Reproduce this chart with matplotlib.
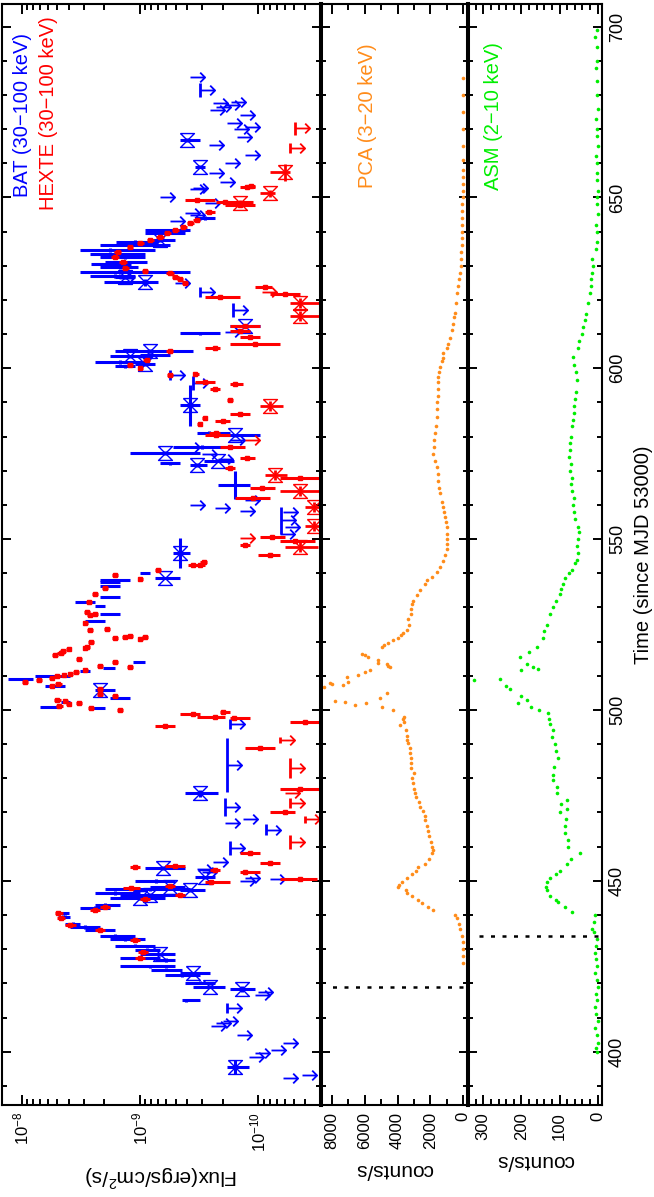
import numpy as np
import matplotlib
matplotlib.use("Agg")
import matplotlib.pyplot as plt
from matplotlib.path import Path
from matplotlib.ticker import MultipleLocator, LogLocator, NullFormatter, FixedLocator

plt.rcParams['font.family'] = ['Liberation Sans', 'DejaVu Sans']
plt.rcParams['mathtext.fontset'] = 'custom'
plt.rcParams['mathtext.rm'] = 'Liberation Sans'
plt.rcParams['mathtext.it'] = 'Liberation Sans:italic'
plt.rcParams['mathtext.bf'] = 'Liberation Sans:bold'

# ---------------- data (flux in units of 1e-10 erg/cm^2/s, time in MJD-53000) -------------
FLUX_UNIT = 1e-10

# BAT detections
bat_t = [395.5, 415.0, 418.3, 419.0, 420.2, 422.9, 422.3, 424.0, 425.0, 426.8,
         427.5, 428.5, 429.8, 431.0, 433.0, 434.0, 435.6, 436.5, 437.5, 439.5,
         440.5, 442.0, 443.0, 445.0, 446.0, 446.4, 447.5, 448.2, 447.3, 450.0,
         453.7, 451.0, 475.6,
         500.6, 501.0, 502.3, 503.4, 505.8, 507.0, 509.0, 509.9, 511.4, 512.3,
         514.0, 526.0, 528.0, 530.4, 531.6, 533.0, 536.2, 537.5, 538.0, 540.1,
         538.6, 545.9,
         565.8, 571.7, 573.0, 575.2, 572.2, 577.0, 580.4, 581.0, 589.2, 601.8,
         600.6, 605.0, 603.5, 601.2, 604.0, 610.2, 612.4,
         625.2, 628.2, 629.6, 631.0, 632.6, 634.6, 636.0, 637.5, 633.5, 627.0,
         639.5, 640.4, 626.7, 644.0, 666.8, 659.0, 637.0, 630.5]
bat_f = [1.57, 4.1, 1.38, 2.56, 3.1, 3.6, 4.4, 6.0, 8.2, 6.0,
         10.0, 6.8, 8.8, 11.0, 13.4, 16.3, 21.8, 29.2, 37, 43,
         45, 24, 19.8, 10.0, 8.2, 16.3, 8.2, 5.6, 3.8, 7.3,
         6.4, 2.82, 3.11,
         23, 60, 43, 14.3, 21.8, 52, 90, 58, 28, 17.9,
         10.5, 24, 17.9, 21.8, 28, 17.9, 17.9, 17.9, 16.3, 9.1,
         6.2, 4.6,
         1.57, 3.3, 2.2, 6.15, 5.6, 3.0, 1.57, 2.6, 3.78, 14.8,
         13.4, 8.2, 12.2, 9.1, 8.2, 3.1, 1.3,
         9.1, 14.8, 14.8, 13.4, 13.4, 17.9, 12.2, 6.8, 16.3, 16.3,
         6.15, 5.6, 13.4, 2.8, 4.0, 3.11, 11, 18]
bat_lo = [1.20, 3.1, 1.07, 1.91, 2.32, 2.56, 3.1, 4.4, 5.06, 5.06,
          6.8, 5.06, 6.8, 7.5, 9.1, 11.0, 16.3, 21.8, 32, 39,
          40, 18, 14.8, 6.2, 4.6, 10.0, 3.8, 4.2, 2.8, 5.06,
          4.2, 2.32, 2.2,
          19.8, 47, 39, 12.2, 16.3, 43, 80, 39, 26.5, 16.3,
          9.1, 19.8, 14.8, 19.8, 24, 14.8, 14.8, 14.8, 12.2, 8.2,
          4.6, 3.78,
          1.18, 2.7, 1.6, 3.11, 4.6, 1.6, 0.97, 1.73, 3.11, 9.1,
          11.0, 3.6, 8.2, 7.5, 5.6, 2.11, 0.97,
          7.0, 3.8, 10.5, 8.8, 9.1, 7.5, 5.6, 5.06, 9.1, 11,
          4.2, 3.8, 11, 2.32, 3.11, 2.82, 7, 12]
bat_hi = [1.85, 4.4, 1.73, 3.6, 4.2, 4.6, 6.15, 8.0, 14.8, 7.5,
          14.8, 10.0, 11.0, 16.3, 17.9, 21.8, 29.2, 39.1, 43, 49,
          50, 32, 24, 17.9, 14.8, 24, 19.8, 8.2, 4.6, 11.0,
          9.1, 3.43, 4.17,
          26.5, 70, 47, 17.9, 24, 63, 130, 77, 32, 20.5,
          11.5, 29.2, 21.8, 24, 35.4, 21.8, 21.8, 21.8, 21.8, 10.0,
          7.5, 5.3,
          2.2, 3.8, 2.9, 12.2, 6.8, 5.3, 2.0, 3.3, 4.6, 24,
          16.3, 16.3, 17.9, 11.0, 10.0, 4.6, 1.73,
          20, 32, 21.8, 19.8, 21.8, 32, 21.8, 8.2, 26.5, 26.5,
          9.1, 9.1, 16.3, 3.43, 4.6, 3.43, 16, 26]
bat_dt = [2.0, 0.5, 0.8, 0.5, 0.5, 0.5, 0.5, 0.5, 0.5, 0.5,
          0.5, 0.5, 0.5, 0.5, 0.5, 0.5, 0.5, 0.5, 0.5, 0.5,
          0.5, 0.5, 0.5, 0.5, 0.5, 0.5, 0.5, 0.5, 0.5, 0.5,
          0.5, 0.5, 1.0,
          0.3, 0.3, 0.3, 0.3, 0.3, 0.3, 0.3, 0.3, 0.3, 0.3,
          0.3, 0.3, 0.3, 0.3, 0.3, 0.3, 0.3, 0.3, 0.3, 0.3,
          0.3, 4.4,
          4.0, 0.5, 0.5, 0.5, 0.5, 0.5, 0.5, 0.5, 6.0, 0.5,
          0.5, 0.5, 0.5, 0.5, 0.5, 0.5, 0.5,
          1.0, 0.5, 0.5, 0.5, 0.5, 0.5, 0.5, 0.5, 0.5, 0.5,
          0.5, 0.5, 0.5, 0.5, 0.5, 0.5, 0.5, 0.5]
bat_star = [1, 0, 1, 1, 0, 1, 0, 0, 0, 0,
            0, 1, 0, 0, 0, 0, 0, 0, 0, 0,
            0, 0, 0, 1, 1, 0, 0, 1, 1, 0,
            1, 1, 1,
            0, 0, 0, 0, 1, 0, 0, 0, 0, 0,
            0, 0, 0, 0, 0, 0, 0, 0, 0, 0,
            1, 1,
            0, 1, 1, 1, 0, 0, 1, 0, 1, 0,
            0, 1, 1, 1, 0, 0, 1,
            1, 0, 0, 0, 0, 0, 0, 1, 0, 0,
            0, 0, 1, 0, 1, 1, 0, 0]

# BAT upper limits
batul_t = [392.3, 393.2, 398.4, 399.6, 400.5, 402.5, 405.0, 407.5, 408.5, 409.0,
           412.8, 416.6, 417.5, 450.0, 450.8, 450.5, 452.5, 453.5, 455.4, 459.6,
           465.0, 467.0, 468.0, 471.6, 483.9, 496.0, 551.5, 553.5, 555.5, 558.0,
           558.2, 559.0, 560.0, 561.4, 573.5, 575.0, 577.0, 579.0, 595.6, 598.0,
           610.6, 617.0, 622.3, 624.9, 626.5, 643.0, 644.8, 645.4, 648.3, 650.1,
           652.4, 652.7, 654.5, 657.0, 660.0, 662.4, 665.2, 667.6, 670.0, 670.5,
           671.8, 674.0, 675.6, 676.5, 677.0, 678.0, 677.5, 681.4, 685.2]
batul_f = [0.62, 0.43, 1.20, 1.07, 0.78, 0.62, 1.50, 2.5, 2.3, 2.0,
           1.85, 1.07, 1.0, 1.43, 1.30, 0.80, 3.0, 3.3, 2.4, 1.73,
           0.86, 1.91, 1.35, 1.91, 1.85, 1.73, 0.66, 0.60, 0.64, 0.62,
           1.43, 2.32, 3.78, 1.30, 2.2, 3.0, 4.2, 1.73, 3.6, 5.6,
           1.91, 1.65, 3.1, 5.06, 15, 5.6, 3.8, 4.2, 2.82, 6.8,
           3.78, 3.6, 2.11, 2.6, 1.91, 1.30, 2.6, 1.5, 1.6, 1.3,
           1.85, 1.43, 2.56, 2.3, 1.9, 1.7, 2.4, 3.11, 3.78]
batul_dt = [0, 0, 0, 0, 0, 0, 0, 0, 0, 0,
            1.5, 0, 0, 0, 0, 0, 0, 0, 0, 2.0,
            1.5, 0, 0, 2.5, 8.0, 1.5, 0, 0, 4.0, 0,
            0, 0, 0, 0, 0, 0, 0, 0, 2.0, 1.5,
            0, 2.0, 1.5, 0, 0, 0, 0, 0, 0, 0,
            0, 0, 0, 0, 0, 0, 0, 0, 0, 0,
            0, 0, 0, 0, 0, 0, 0, 2.0, 0]

# HEXTE detections (dots)
hx_t = [427.5, 429.2, 432.7, 435.6, 437.0, 439.0, 440.5, 442.3, 441.5, 444.7,
        445.9, 447.8, 448.5, 449.7, 450.5, 452.6, 453.2, 454.0, 454.2, 455.2,
        458.2, 470.2, 476.9, 488.9, 495.3, 496.5, 497.6, 498.0, 498.8, 499.3,
        500.0, 500.6, 501.2, 501.7, 502.0, 502.5, 503.0, 504.0, 504.8, 506.0,
        507.0, 507.5, 508.3, 508.7, 509.5, 509.9, 510.2, 510.5, 511.0, 511.6,
        512.6, 513.0, 514.0, 515.0, 516.0, 516.8, 517.3, 517.8, 518.0, 518.5,
        519.8, 521.0, 521.3, 521.6, 520.8, 521.5, 523.7, 523.3, 525.5, 527.8,
        528.2, 528.6, 531.5, 534.0, 535.7, 539.5, 538.3, 541.0, 542.5, 543.3,
        542.4, 548.3, 545.3, 550.6, 549.5, 567.8, 565.0, 562.0, 580.5, 581.0,
        577.0, 570.7, 573.7, 583.6, 585.4, 584.6, 586.6, 590.7, 594.0, 596.0,
        595.4, 598.2, 598.0, 600.0, 601.0, 602.5, 605.0, 606.0, 607.0, 609.1,
        610.9, 612.4, 620.8, 621.7, 623.7,
        624.9, 626.0, 626.7, 627.8, 628.5, 629.3, 631.0, 632.6, 634.0, 635.5,
        636.7, 637.5, 638.5, 639.6, 640.5, 641.4, 642.5, 643.5, 645.7, 647.7,
        648.6, 649.2, 653.0, 653.3]
hx_f = [10.0, 9.5, 11, 21.8, 39, 47, 49, 19.8, 24, 9.1,
        4.6, 12, 5.6, 2.5, 0.445, 1.3, 2.32, 11, 5.06, 0.80,
        1.18, 0.595, 0.445, 0.97, 6.2, 0.40, 1.6, 2.32, 3.6, 2.0,
        14.8, 26, 48, 40, 33, 43, 50, 16.3, 21.8, 21.8,
        56, 49, 94, 72, 56, 50, 44, 39, 35, 29,
        12.2, 21.8, 16.3, 33, 52, 47, 45, 40, 29, 28,
        26, 16.3, 13.4, 12.2, 10.0, 9.1, 19, 26.5, 29, 26.5,
        24, 28, 27, 24, 19.8, 16.3, 10, 7, 3.6, 2.9,
        3.11, 1.30, 0.80, 0.76, 0.49, 0.445, 0.93, 1.10, 2.3, 2.3,
        1.73, 1.73, 1.25, 3.11, 2.82, 2.0, 1.43, 1.73, 2.32, 2.82,
        1.57, 3.43, 5.6, 10, 12.2, 8.8, 5.6, 2.32, 1.07, 1.18,
        1.43, 1.30, 2.11, 0.595, 0.88,
        4.17, 4.6, 5.06, 5.6, 9.1, 13.4, 14, 16.3, 15.5, 12.2,
        10, 8.2, 6.8, 5.9, 5.06, 4.3, 3.78, 3.3, 2.6, 1.43,
        1.91, 3.3, 1.25, 1.15]
hx_lo = [9.1, 8.5, 10, 19.8, 35, 43, 45, 17.9, 21.8, 8.2,
         4.2, 10, 5.06, 1.73, 0.32, 0.97, 2.1, 10, 4.2, 0.66,
         0.97, 0.49, 0.30, 0.72, 5.06, 0.30, 1.18, 1.91, 3.11, 1.73,
         14.0, 24.5, 45, 38, 31, 41, 47, 15.4, 20.6, 20.6,
         53, 46, 89, 68, 53, 47, 42, 37, 33, 27.5,
         11.5, 20.6, 15.4, 31, 49, 44, 42.5, 38, 27.5, 26.5,
         24.5, 15.4, 12.7, 11.5, 9.5, 8.6, 18, 25, 27.5, 25,
         22.7, 26.5, 25.5, 22.7, 18.7, 15.4, 9.5, 6.6, 3.3, 2.7,
         2.82, 1.18, 0.66, 0.59, 0.33, 0.30, 0.72, 0.80, 1.73, 2.11,
         1.30, 1.57, 1.07, 3.0, 2.7, 1.73, 1.18, 1.65, 2.11, 2.32,
         1.35, 3.2, 5.3, 9.5, 11.5, 8.2, 5.3, 2.11, 0.66, 0.97,
         1.18, 0.97, 1.43, 0.44, 0.76,
         3.9, 4.3, 4.7, 5.2, 8.5, 12.5, 13, 15, 14.5, 11.4,
         9.3, 7.6, 6.3, 5.5, 4.7, 4.0, 3.5, 3.1, 2.32, 1.07,
         1.10, 2.32, 1.07, 1.07]
hx_hi = [11.0, 10.5, 12.2, 24, 43, 50, 52, 21.8, 26.5, 10.0,
         5.06, 14, 6.2, 2.82, 0.66, 1.43, 2.56, 12.2, 6.15, 0.97,
         1.43, 0.80, 0.66, 1.30, 7.5, 0.54, 1.73, 3.3, 4.6, 2.11,
         15.6, 27.5, 51, 42, 35, 45, 53, 17.2, 23, 23,
         59, 52, 99, 76, 59, 53, 46, 41, 37, 30.5,
         12.9, 23, 17.2, 35, 55, 50, 47.5, 42, 30.5, 29.5,
         27.5, 17.2, 14.1, 12.9, 10.5, 9.6, 20, 28, 30.5, 28,
         25.3, 29.5, 28.5, 25.3, 20.9, 17.2, 10.5, 7.4, 3.9, 3.1,
         3.43, 1.43, 1.0, 0.97, 0.66, 0.66, 1.18, 1.57, 2.82, 2.6,
         2.11, 1.91, 1.43, 3.3, 3.0, 2.32, 1.73, 1.85, 2.56, 3.43,
         1.73, 3.6, 5.9, 10.5, 13, 9.5, 6.0, 2.82, 1.73, 1.43,
         1.73, 1.73, 2.82, 0.80, 1.07,
         4.4, 4.9, 5.4, 6.0, 9.7, 14.3, 15, 17.5, 16.5, 13,
         10.7, 8.8, 7.3, 6.3, 5.4, 4.6, 4.0, 3.6, 2.82, 1.91,
         2.3, 4.2, 1.43, 1.25]

# HEXTE detections drawn with star symbols
hxs_t = [547.8, 559.4, 553.8, 564.0, 568.7, 589.0, 619.0, 615.3, 648.3, 651.2, 657.4]
hxs_f = [0.445, 0.34, 0.34, 0.445, 0.72, 0.80, 0.445, 0.445, 1.43, 0.80, 0.595]
hxs_lo = [0.31, 0.29, 0.29, 0.30, 0.57, 0.62, 0.30, 0.30, 1.3, 0.72, 0.54]
hxs_hi = [0.595, 0.40, 0.40, 0.66, 0.88, 0.97, 0.54, 0.54, 1.6, 0.97, 0.80]
hxs_dt = [1.5, 1.5, 1.5, 1.5, 1.5, 1.5, 1.5, 1.5, 1.0, 1.0, 2.5]

# HEXTE upper limits
hxul_t = [461.4, 468.0, 472.7, 475.6, 483.0, 491.2, 550.3, 579.0, 622.3, 664.4, 670.2]
hxul_f = [0.54, 0.40, 0.54, 0.595, 0.54, 0.66, 1.43, 1.30, 0.93, 0.54, 0.49]
hxul_dt = [2.0, 1.0, 1.5, 0, 3.0, 1.0, 0, 0, 0, 1.5, 2.0]

# PCA (3-20 keV) counts/s
pca_t = [426, 428, 430, 432, 434, 436, 437.5, 439, 440, 441.5,
         442.3, 443.5, 444.4, 445.5, 446.5, 447.3, 448.3, 448.8, 449.7, 450.8,
         452, 453, 454, 455, 456.5, 458, 459, 460, 461.5, 463,
         464.5, 466, 467.8, 469, 470.5, 471.6, 473, 474.5, 475.6, 477,
         478.5, 480, 481.5, 483, 484.5, 486, 487.5, 489, 490.2, 491.2,
         492.5, 494, 495.6, 496.5, 497.5, 498, 500, 501, 501.5, 502,
         502.3, 502.6, 503.4, 505, 506.7, 507.3, 507.5, 508, 508.2, 509.6,
         510.3, 511, 511.6, 512.5, 513, 513.5, 513.8, 514.6, 515.5, 516,
         516.5, 518.5, 519, 519.6, 520.5, 521.2, 522, 522.5, 523.4, 525,
         526.5, 528, 529.5, 531, 532, 533.6, 535, 537, 538, 539,
         540.5, 541.8, 543.5, 545.4, 547, 548.5, 550, 551.5, 553.6, 555,
         556.4, 558, 559.3, 561, 563.4, 565, 567, 569, 571, 573,
         575, 577, 579, 581, 583, 585.8, 588, 590, 592, 594,
         596, 597.5, 599, 600.4, 602, 603, 604.4, 606, 607.2, 609,
         611.1, 613, 615, 616.1, 619, 622, 624, 626, 628, 630,
         632, 634, 636, 638, 640, 642, 644, 646, 648, 650,
         652, 654, 656, 658, 661, 665, 670, 675, 680, 685]
pca_c = [20, 10, 30, 20, 40, 180, 260, 350, 490, 1830,
         2140, 2500, 2750, 3100, 3440, 3500, 3950, 3900, 3700, 3440,
         3100, 2900, 2750, 2300, 2100, 1900, 1830, 1880, 1950, 2050,
         2150, 2200, 2300, 2320, 2450, 2630, 2700, 2850, 2930, 3000,
         3050, 3100, 3000, 3150, 3200, 3150, 3250, 3240, 3350, 3420,
         3450, 3500, 3850, 3600, 3650, 3580, 4270, 4950, 6600, 5900,
         7200, 7800, 5070, 4640, 8500, 7300, 8000, 8100, 7000, 7100,
         6400, 6000, 5680, 4450, 4550, 4650, 5200, 5200, 5800, 6000,
         6150, 4950, 4800, 4580, 4270, 4000, 3800, 3660, 3420, 3300,
         3350, 3200, 3150, 3100, 3050, 2810, 2600, 2320, 2200, 1900,
         1600, 1400, 1250, 1100, 1000, 980, 960, 980, 980, 1050,
         1100, 1150, 1220, 1300, 1400, 1450, 1500, 1550, 1600, 1700,
         1830, 1800, 1750, 1710, 1650, 1600, 1580, 1560, 1550, 1540,
         1530, 1530, 1450, 1400, 1300, 1220, 1220, 1000, 900, 780,
         670, 600, 520, 480, 400, 370, 300, 250, 200, 150,
         120, 100, 80, 70, 60, 50, 50, 40, 40, 30,
         30, 30, 25, 25, 20, 20, 15, 15, 10, 10]

# ASM (2-10 keV) counts/s
asm_t = [400, 401, 402.5, 405, 407, 409, 411, 413, 415, 417,
         419, 421, 423, 425, 427, 429, 431, 433, 435, 436,
         438, 440, 441, 442.3, 443.8, 444.4, 445.5, 447.3, 448.3, 449.7,
         450.8, 452, 453, 455, 456.5, 458, 460, 462, 464, 466,
         468, 470, 471, 472.5, 473.6, 475.6, 477.4, 479.5, 481, 483.3,
         486, 488, 490, 492, 494, 496, 497.5, 499, 500, 501,
         502, 503, 504, 506, 507, 508.8, 509, 511.7, 512, 512.6,
         513.5, 515.5, 517, 518.5, 521, 523, 525, 528, 530, 532,
         534, 535.5, 537, 538.5, 540, 541, 543, 544, 546, 548,
         550, 552, 553.5, 556, 558, 560, 562, 564, 566, 568,
         570, 572, 574, 576, 578, 580, 583, 585, 587, 589,
         591, 593, 596.6, 599, 601, 603.3, 606, 608, 610, 612,
         614, 616, 619, 622, 624, 626, 628, 630, 632, 635,
         637, 640, 642, 645, 648, 650, 652, 655, 657, 660,
         662, 665, 668, 670, 673, 676, 680, 684, 688, 690,
         694, 697, 699]
asm_c = [2, 5, 0, 3, 8, -2, 4, 6, 2, 5,
         0, 3, 6, 2, 4, 8, 5, 3, 10, 15,
         10, 7, 67, 85, 104, 110, 125, 133, 135, 133,
         125, 110, 99, 80, 70, 46, 78, 78, 85, 85,
         82, 99, 80, 95, 80, 107, 107, 118, 118, 115,
         104, 110, 112, 120, 118, 125, 128, 130, 155, 175,
         210, 185, 200, 230, 240, 325, 255, 200, 157, 170,
         185, 204, 180, 160, 143, 140, 133, 125, 118, 110,
         100, 95, 90, 85, 75, 68, 60, 55, 52, 53,
         52, 50, 52, 60, 62, 65, 62, 68, 70, 68,
         72, 70, 74, 72, 72, 70, 68, 65, 62, 62,
         60, 58, 55, 58, 62, 65, 52, 48, 42, 38,
         33, 30, 25, 20, 18, 17, 15, 12, 15, 5,
         3, 2, 4, 0, 3, 2, -1, 3, 1, 2,
         5, 0, 3, 2, 4, 0, 3, 2, 5, 1,
         3, 6, 2]

# tick values
flux_ticks = [1e-8, 1e-9, 1e-10]
pca_ticks = [0, 2000, 4000, 6000, 8000]
asm_ticks = [0, 100, 200, 300]
time_ticks = [400, 450, 500, 550, 600, 650, 700]

# dotted reference lines (start of the PCA and ASM coverage markers)
pca_mark_t = 419.0
pca_mark_c = 8000
asm_mark_t = 434.0
asm_mark_c = 330

# ---------------- styling -------------
BLUE = '#0000ff'
RED = '#ff0000'
ORANGE = '#ff8c1a'
GREEN = '#00ee00'

W, H = 654, 1197
fig = plt.figure(figsize=(W / 100, H / 100), dpi=100)


def rect(x0, x1, y0=4, y1=1105):
    return [x0 / W, 1 - y1 / H, (x1 - x0) / W, (y1 - y0) / H]


ax1 = fig.add_axes(rect(2, 321))
ax2 = fig.add_axes(rect(321, 468))
ax3 = fig.add_axes(rect(468, 602))

arrow_marker = Path([(0, 0), (2, 0), (1.33, 0.67), (2, 0), (1.33, -0.67)],
                    [Path.MOVETO, Path.LINETO, Path.MOVETO, Path.LINETO, Path.LINETO])
hourglass = Path([(-1, 1), (1, 1), (-1, -1), (1, -1), (-1, 1)],
                 [Path.MOVETO, Path.LINETO, Path.LINETO, Path.LINETO, Path.LINETO])

# ---- flux panel ----
bt = np.array(bat_t); bf = np.array(bat_f) * FLUX_UNIT
blo = np.array(bat_lo) * FLUX_UNIT; bhi = np.array(bat_hi) * FLUX_UNIT
bdt = np.array(bat_dt); bstar = np.array(bat_star) == 1
ax1.errorbar(bf, bt, xerr=[bf - blo, bhi - bf], yerr=bdt, fmt='none',
             ecolor=BLUE, elinewidth=2.2, capsize=0, zorder=3)
ax1.plot(bf[bstar], bt[bstar], ls='none', marker=hourglass, ms=10,
         mfc='none', mec=BLUE, mew=1.0, zorder=3)

ut = np.array(batul_t); uf = np.array(batul_f) * FLUX_UNIT; udt = np.array(batul_dt)
ax1.errorbar(uf, ut, yerr=udt, fmt='none', ecolor=BLUE, elinewidth=2.0, capsize=0, zorder=3)
ax1.plot(uf, ut, ls='none', marker=arrow_marker, ms=21, mfc='none', mec=BLUE,
         mew=1.3, zorder=3)

ht = np.array(hx_t); hf = np.array(hx_f) * FLUX_UNIT
hlo = np.array(hx_lo) * FLUX_UNIT; hhi = np.array(hx_hi) * FLUX_UNIT
ax1.errorbar(hf, ht, xerr=[hf - hlo, hhi - hf], fmt='s', ms=2.5, color=RED,
             mec=RED, elinewidth=2.2, capsize=0, zorder=4)

st = np.array(hxs_t); sf = np.array(hxs_f) * FLUX_UNIT
slo = np.array(hxs_lo) * FLUX_UNIT; shi = np.array(hxs_hi) * FLUX_UNIT
ax1.errorbar(sf, st, xerr=[sf - slo, shi - sf], yerr=np.array(hxs_dt), fmt='none',
             ecolor=RED, elinewidth=2.0, capsize=0, zorder=4)
ax1.plot(sf, st, ls='none', marker=hourglass, ms=10, mfc='none', mec=RED, mew=1.0, zorder=4)

rt = np.array(hxul_t); rf = np.array(hxul_f) * FLUX_UNIT
ax1.errorbar(rf, rt, yerr=np.array(hxul_dt), fmt='none', ecolor=RED, elinewidth=2.0,
             capsize=0, zorder=4)
ax1.plot(rf, rt, ls='none', marker=arrow_marker, ms=21, mfc='none', mec=RED, mew=1.3, zorder=4)

ax1.set_xscale('log')
ax1.set_xlim(10 ** -7.833, 10 ** -10.53)
ax1.xaxis.set_major_locator(FixedLocator(flux_ticks))
ax1.xaxis.set_minor_locator(LogLocator(base=10, subs=np.arange(2, 10), numticks=30))
ax1.xaxis.set_minor_formatter(NullFormatter())
ax1.set_xlabel('Flux(ergs/cm$^2$/s)', rotation=180, fontsize=15, labelpad=8)

ax1.text(0.0627, 0.8247, 'BAT (30\u2212100 keV)', rotation=90, color=BLUE,
         ha='center', va='bottom', transform=ax1.transAxes, fontsize=14.5)
ax1.text(0.147, 0.813, 'HEXTE (30\u2212100 keV)', rotation=90, color=RED,
         ha='center', va='bottom', transform=ax1.transAxes, fontsize=14.5)

# ---- PCA panel ----
ax2.plot(pca_c, pca_t, ls='none', marker='o', ms=2.6, mew=0, color=ORANGE)
ax2.plot([0, pca_mark_c], [pca_mark_t, pca_mark_t], color='black', lw=1.8,
         ls=(0, (1.6, 3.0)))
ax2.set_xlim(8672, -305)
ax2.xaxis.set_major_locator(FixedLocator(pca_ticks))
ax2.xaxis.set_minor_locator(MultipleLocator(1000))
ax2.set_xlabel('counts/s', rotation=180, fontsize=15, labelpad=8)
ax2.text(0.313, 0.833, 'PCA (3\u221220 keV)', rotation=90, color=ORANGE,
         ha='center', va='bottom', transform=ax2.transAxes, fontsize=14.5)

# ---- ASM panel ----
ax3.plot(asm_c, asm_t, ls='none', marker='o', ms=2.6, mew=0, color=GREEN)
ax3.plot([0, asm_mark_c], [asm_mark_t, asm_mark_t], color='black', lw=1.8,
         ls=(0, (1.6, 3.0)))
ax3.set_xlim(340, -11.3)
ax3.xaxis.set_major_locator(FixedLocator(asm_ticks))
ax3.xaxis.set_minor_locator(MultipleLocator(20))
ax3.set_xlabel('counts/s', rotation=180, fontsize=15, labelpad=8)
ax3.text(0.187, 0.831, 'ASM (2\u221210 keV)', rotation=90, color=GREEN,
         ha='center', va='bottom', transform=ax3.transAxes, fontsize=14.5)

# ---- common axes styling ----
for ax in (ax1, ax2, ax3):
    ax.set_ylim(384.4, 706.6)
    ax.yaxis.set_major_locator(FixedLocator(time_ticks))
    ax.yaxis.set_minor_locator(MultipleLocator(10))
    ax.tick_params(axis='y', which='both', direction='in', left=True, right=True,
                   labelleft=False, labelright=False, width=1.4)
    ax.tick_params(axis='y', which='major', length=6.5)
    ax.tick_params(axis='y', which='minor', length=3.6)
    ax.tick_params(axis='x', which='both', direction='in', top=True, bottom=True,
                   labelrotation=90, labelsize=12, width=1.4, pad=5)
    ax.tick_params(axis='x', which='major', length=7)
    ax.tick_params(axis='x', which='minor', length=4)
    for s in ax.spines.values():
        s.set_linewidth(1.5)

ax1.spines['right'].set_linewidth(2.9)
ax2.spines['left'].set_linewidth(2.9)
ax2.spines['right'].set_linewidth(2.9)
ax3.spines['left'].set_linewidth(2.9)

ax3.tick_params(axis='y', labelright=True, labelrotation=90, labelsize=13, pad=5)
for lbl in ax3.get_yticklabels():
    lbl.set_va('center')
ax3.yaxis.set_label_position('right')
ax3.set_ylabel('Time (since MJD 53000)', rotation=90, fontsize=14.5, labelpad=6)

fig.savefig('out.png', dpi=100)
